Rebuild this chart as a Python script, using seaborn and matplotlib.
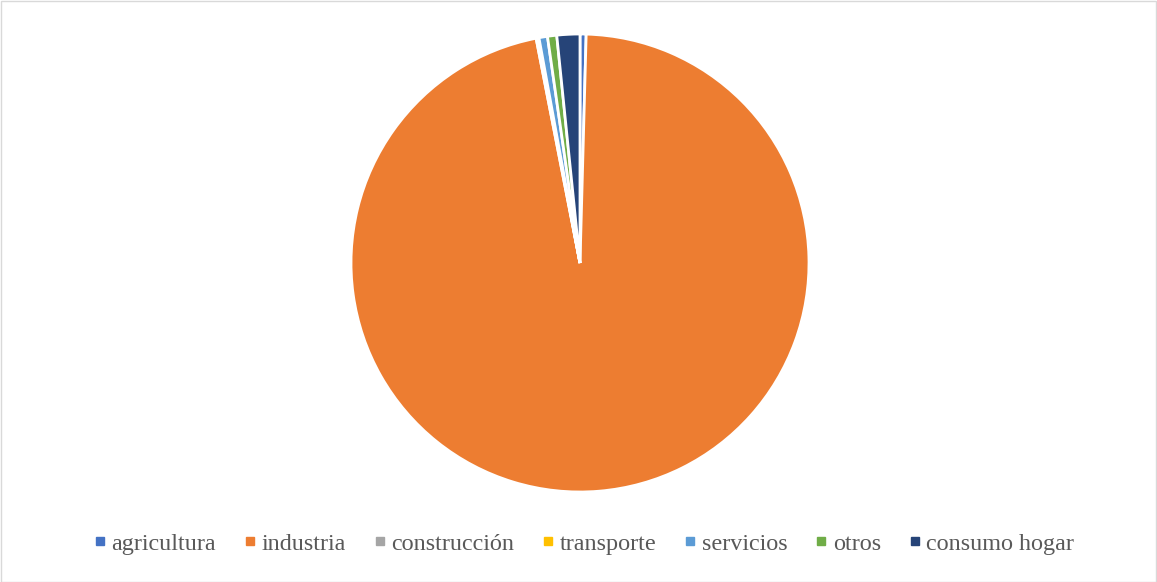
import matplotlib
matplotlib.use("Agg")
import matplotlib.pyplot as plt
from matplotlib.lines import Line2D
from matplotlib.patches import Rectangle
import seaborn as sns

categories = ["agricultura", "industria", "construcción", "transporte",
              "servicios", "otros", "consumo hogar"]
shares = [0.43, 96.5, 0.12, 0.08, 0.6, 0.65, 1.62]
colors = ["#4472C4", "#ED7D31", "#A5A5A5", "#FFC000", "#5B9BD5", "#70AD47", "#264478"]

sns.set_theme(style="white")
plt.rcParams["font.family"] = ["Liberation Serif", "DejaVu Serif"]

W, H = 1157, 582
fig = plt.figure(figsize=(W / 100, H / 100), dpi=100)
fig.patch.set_facecolor("white")

cx, cy, r = 580, 263, 229
ax = fig.add_axes([(cx - r) / W, (H - cy - r) / H, 2 * r / W, 2 * r / H])
ax.pie(shares, colors=colors, startangle=90, counterclock=False, radius=1,
       wedgeprops=dict(edgecolor="white", linewidth=2.0))
ax.set_xlim(-1.0, 1.0)
ax.set_ylim(-1.0, 1.0)
ax.set_aspect("equal")
ax.axis("off")

handles = [Line2D([0], [0], marker="s", linestyle="none", markersize=5.3,
                  markerfacecolor=c, markeredgecolor=c) for c in colors]
fig.legend(handles, categories, loc="center", bbox_to_anchor=(0.505, 0.066),
           ncol=len(categories), frameon=False, fontsize=17.4,
           handlelength=0.45, handletextpad=0.25, columnspacing=1.18,
           labelcolor="#595959")

fig.add_artist(Rectangle((0.5 / W, 0.5 / H), 1 - 1.5 / W, 1 - 1.5 / H,
                         transform=fig.transFigure, fill=False,
                         edgecolor="#D9D9D9", linewidth=1))

fig.savefig("out.png", dpi=100, facecolor="white")
